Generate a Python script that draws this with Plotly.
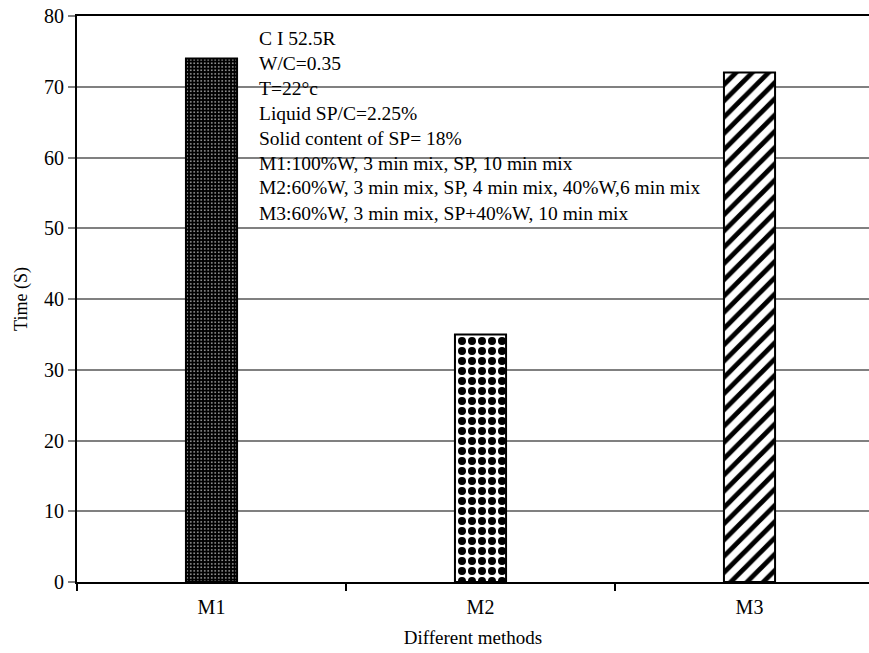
import plotly.graph_objects as go

methods = ["M1", "M2", "M3"]
times = [74, 35, 72]
pattern_shapes = [".", ".", "/"]
pattern_bg = ["black", "white", "white"]
pattern_fg = ["white", "black", "black"]
pattern_size = [3.5, 10, 11.5]
pattern_solidity = [0.15, 0.5, 0.42]

note_lines = [
    "C I 52.5R",
    "W/C=0.35",
    "T=22°c",
    "Liquid SP/C=2.25%",
    "Solid content of SP= 18%",
    "M1:100%W, 3 min mix, SP, 10 min mix",
    "M2:60%W, 3 min mix, SP, 4 min mix, 40%W,6 min mix",
    "M3:60%W, 3 min mix, SP+40%W, 10 min mix",
]

FONT = "Liberation Serif"

fig = go.Figure()
for i in range(len(methods)):
    fig.add_trace(go.Bar(
        x=[methods[i]], y=[times[i]], width=0.19,
        marker=dict(
            color=pattern_bg[i],
            line=dict(color="black", width=2),
            pattern=dict(shape=pattern_shapes[i], bgcolor=pattern_bg[i], fgcolor=pattern_fg[i],
                         size=pattern_size[i], solidity=pattern_solidity[i], fillmode="replace"),
        ),
        showlegend=False,
    ))

W, H = 869, 653
ml, mr, mt, mb = 77, 0, 16, 71
ph = H - mt - mb
pw = W - ml - mr

annotations = []
for i, line in enumerate(note_lines):
    ypix = 38 + 25 * i
    annotations.append(dict(
        text=line, xref="paper", yref="paper",
        x=(257 - ml) / pw, y=1 - (ypix - mt) / ph,
        xanchor="left", yanchor="middle", showarrow=False,
        font=dict(family=FONT, size=19.5, color="black"),
    ))

fig.update_layout(
    width=W, height=H,
    barmode="overlay",
    margin=dict(l=ml, r=mr, t=mt, b=mb, pad=0, autoexpand=False),
    paper_bgcolor="white", plot_bgcolor="white",
    font=dict(family=FONT, color="black", size=18),
    annotations=annotations,
    xaxis=dict(
        range=[-0.5, -0.5 + pw / 269.0], automargin=False,
        showline=True, linecolor="black", linewidth=2, mirror=True,
        ticks="outside", tickson="boundaries", ticklen=7, tickcolor="black", tickwidth=1.5,
        showgrid=False, ticklabelstandoff=6,
        tickfont=dict(family=FONT, size=20, color="black"),
        title=dict(text="Different methods", font=dict(family=FONT, size=19, color="black"), standoff=14),
    ),
    yaxis=dict(
        range=[0, 80], dtick=10, automargin=False,
        showline=True, linecolor="black", linewidth=2,
        ticks="outside", ticklen=7, tickcolor="#808080", tickwidth=2,
        showgrid=True, gridcolor="#808080", gridwidth=2,
        zeroline=False, ticklabeloverflow="allow",
        tickfont=dict(family=FONT, size=20, color="black"),
        title=dict(text="Time (S)", font=dict(family=FONT, size=18, color="black"), standoff=12),
    ),
)

fig.write_html(
    "out.html",
    config={"displayModeBar": False},
    post_script="document.body.style.margin='0';document.body.style.overflow='hidden';",
)
